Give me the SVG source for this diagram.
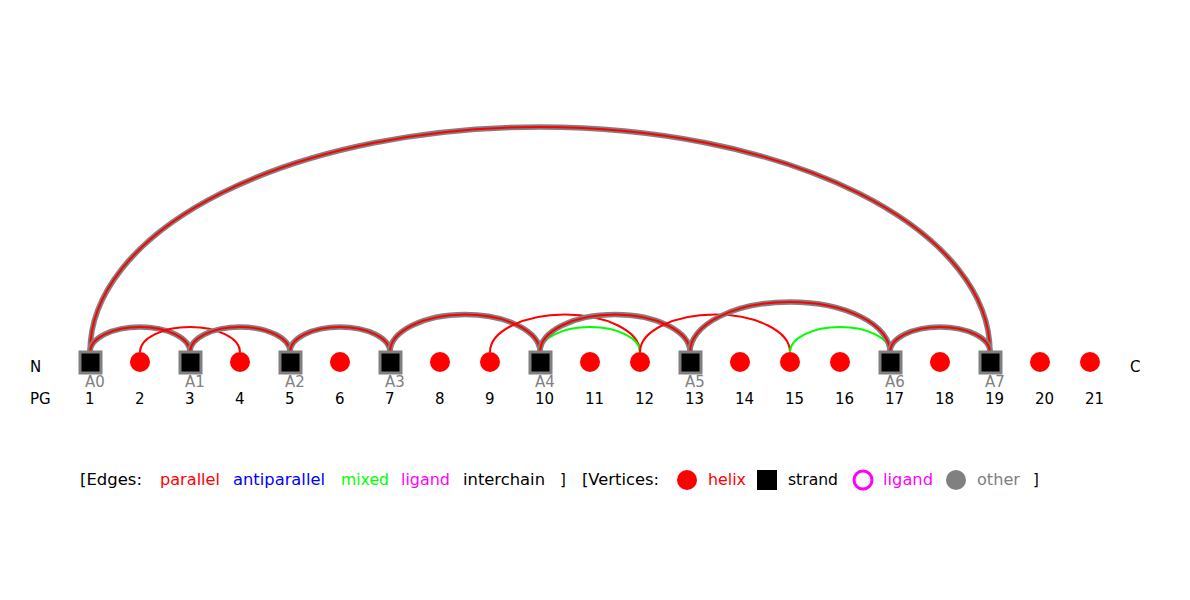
<svg xmlns="http://www.w3.org/2000/svg" width="1190" height="600" viewBox="0 0 1190 600">
<style>
text{font-family:"DejaVu Sans","Liberation Sans",sans-serif;font-size:15px;fill:#000}
.lab{fill:#808080}
.thickO{fill:none;stroke:#808080;stroke-width:5.5}
.thickI{fill:none;stroke:#ff0000;stroke-width:2}
.par{fill:none;stroke:#ff0000;stroke-width:2}
.mix{fill:none;stroke:#00ff00;stroke-width:2}
.helix{fill:#ff0000}
.strand{fill:#000;stroke:#808080;stroke-width:3}
</style>
<rect width="1190" height="600" fill="#fff"/>
<g id="connectors">
  <g id="e-A0-A7"><path class="thickO" d="M90 352 A450 225 0 0 1 990 352"/><path class="thickI" d="M90 352 A450 225 0 0 1 990 352"/></g>
  <g id="e-A0-A1"><path class="thickO" d="M90 352 A50 25 0 0 1 190 352"/><path class="thickI" d="M90 352 A50 25 0 0 1 190 352"/></g>
  <path id="e-2-4" class="par" d="M140 352 A50 25 0 0 1 240 352"/>
  <g id="e-A1-A2"><path class="thickO" d="M190 352 A50 25 0 0 1 290 352"/><path class="thickI" d="M190 352 A50 25 0 0 1 290 352"/></g>
  <g id="e-A2-A3"><path class="thickO" d="M290 352 A50 25 0 0 1 390 352"/><path class="thickI" d="M290 352 A50 25 0 0 1 390 352"/></g>
  <g id="e-A3-A4"><path class="thickO" d="M390 352 A75 37.5 0 0 1 540 352"/><path class="thickI" d="M390 352 A75 37.5 0 0 1 540 352"/></g>
  <path id="e-9-12" class="par" d="M490 352 A75 37.5 0 0 1 640 352"/>
  <path id="e-10-12" class="mix" d="M540 352 A50 25 0 0 1 640 352"/>
  <g id="e-A4-A5"><path class="thickO" d="M540 352 A75 37.5 0 0 1 690 352"/><path class="thickI" d="M540 352 A75 37.5 0 0 1 690 352"/></g>
  <path id="e-12-15" class="par" d="M640 352 A75 37.5 0 0 1 790 352"/>
  <path id="e-15-17" class="mix" d="M790 352 A50 25 0 0 1 890 352"/>
  <g id="e-A5-A6"><path class="thickO" d="M690 352 A100 50 0 0 1 890 352"/><path class="thickI" d="M690 352 A100 50 0 0 1 890 352"/></g>
  <g id="e-A6-A7"><path class="thickO" d="M890 352 A50 25 0 0 1 990 352"/><path class="thickI" d="M890 352 A50 25 0 0 1 990 352"/></g>
</g>
<g id="nodes">
  <g id="n1"><rect class="strand" x="80" y="352" width="21" height="21"/><text class="lab" x="85" y="387">A0</text></g>
  <g id="n2"><circle class="helix" cx="140" cy="362" r="10"/></g>
  <g id="n3"><rect class="strand" x="180" y="352" width="21" height="21"/><text class="lab" x="185" y="387">A1</text></g>
  <g id="n4"><circle class="helix" cx="240" cy="362" r="10"/></g>
  <g id="n5"><rect class="strand" x="280" y="352" width="21" height="21"/><text class="lab" x="285" y="387">A2</text></g>
  <g id="n6"><circle class="helix" cx="340" cy="362" r="10"/></g>
  <g id="n7"><rect class="strand" x="380" y="352" width="21" height="21"/><text class="lab" x="385" y="387">A3</text></g>
  <g id="n8"><circle class="helix" cx="440" cy="362" r="10"/></g>
  <g id="n9"><circle class="helix" cx="490" cy="362" r="10"/></g>
  <g id="n10"><rect class="strand" x="530" y="352" width="21" height="21"/><text class="lab" x="535" y="387">A4</text></g>
  <g id="n11"><circle class="helix" cx="590" cy="362" r="10"/></g>
  <g id="n12"><circle class="helix" cx="640" cy="362" r="10"/></g>
  <g id="n13"><rect class="strand" x="680" y="352" width="21" height="21"/><text class="lab" x="685" y="387">A5</text></g>
  <g id="n14"><circle class="helix" cx="740" cy="362" r="10"/></g>
  <g id="n15"><circle class="helix" cx="790" cy="362" r="10"/></g>
  <g id="n16"><circle class="helix" cx="840" cy="362" r="10"/></g>
  <g id="n17"><rect class="strand" x="880" y="352" width="21" height="21"/><text class="lab" x="885" y="387">A6</text></g>
  <g id="n18"><circle class="helix" cx="940" cy="362" r="10"/></g>
  <g id="n19"><rect class="strand" x="980" y="352" width="21" height="21"/><text class="lab" x="985" y="387">A7</text></g>
  <g id="n20"><circle class="helix" cx="1040" cy="362" r="10"/></g>
  <g id="n21"><circle class="helix" cx="1090" cy="362" r="10"/></g>
</g>
<g id="axis">
  <text x="30" y="372">N</text>
  <text x="1130" y="372">C</text>
  <text x="30" y="404">PG</text>
  <text x="85" y="404">1</text>
  <text x="135" y="404">2</text>
  <text x="185" y="404">3</text>
  <text x="235" y="404">4</text>
  <text x="285" y="404">5</text>
  <text x="335" y="404">6</text>
  <text x="385" y="404">7</text>
  <text x="435" y="404">8</text>
  <text x="485" y="404">9</text>
  <text x="535" y="404">10</text>
  <text x="585" y="404">11</text>
  <text x="635" y="404">12</text>
  <text x="685" y="404">13</text>
  <text x="735" y="404">14</text>
  <text x="785" y="404">15</text>
  <text x="835" y="404">16</text>
  <text x="885" y="404">17</text>
  <text x="935" y="404">18</text>
  <text x="985" y="404">19</text>
  <text x="1035" y="404">20</text>
  <text x="1085" y="404">21</text>
</g>
<g id="legend">
  <text x="80" y="485" textLength="62" lengthAdjust="spacingAndGlyphs">[Edges:</text>
  <text x="160" y="485" style="fill:#ff0000" textLength="60" lengthAdjust="spacingAndGlyphs">parallel</text>
  <text x="233" y="485" style="fill:#0000ff" textLength="92" lengthAdjust="spacingAndGlyphs">antiparallel</text>
  <text x="341" y="485" style="fill:#00ff00" textLength="48" lengthAdjust="spacingAndGlyphs">mixed</text>
  <text x="401" y="485" style="fill:#ff00ff" textLength="49" lengthAdjust="spacingAndGlyphs">ligand</text>
  <text x="463" y="485" textLength="82" lengthAdjust="spacingAndGlyphs">interchain</text>
  <text x="560" y="485">]</text>
  <text x="582" y="485" textLength="77" lengthAdjust="spacingAndGlyphs">[Vertices:</text>
  <circle cx="687" cy="480" r="10" fill="#ff0000"/>
  <text x="708" y="485" style="fill:#ff0000" textLength="38" lengthAdjust="spacingAndGlyphs">helix</text>
  <rect x="757" y="470" width="20" height="20" fill="#000"/>
  <text x="788" y="485" textLength="50" lengthAdjust="spacingAndGlyphs">strand</text>
  <circle cx="863" cy="480" r="9" fill="none" stroke="#ff00ff" stroke-width="3"/>
  <text x="883" y="485" style="fill:#ff00ff" textLength="50" lengthAdjust="spacingAndGlyphs">ligand</text>
  <circle cx="956" cy="480" r="10" fill="#808080"/>
  <text x="977" y="485" style="fill:#808080" textLength="43" lengthAdjust="spacingAndGlyphs">other</text>
  <text x="1033" y="485">]</text>
</g>
</svg>
